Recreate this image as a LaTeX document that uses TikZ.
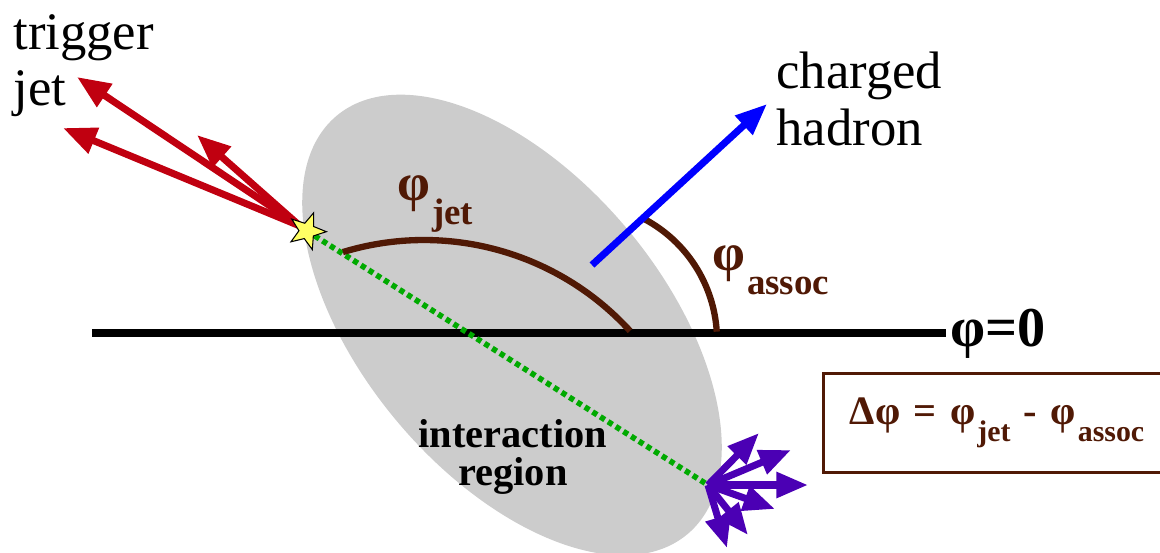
\documentclass[tikz,border=0pt]{standalone}
\usepackage{fontspec}
\setmainfont{Liberation Serif}
\usetikzlibrary{arrows.meta,shapes.geometric}
\definecolor{jetred}{RGB}{192,0,16}
\definecolor{hadronblue}{RGB}{0,0,255}
\definecolor{sprayviolet}{RGB}{75,0,180}
\definecolor{anglebrown}{RGB}{80,25,5}
\definecolor{regiongray}{RGB}{204,204,204}
\definecolor{pathgreen}{RGB}{0,170,0}
\definecolor{staryellow}{RGB}{255,255,100}
% phi with a lowered subscript
\newcommand\phisub[3]{φ\kern1pt\raisebox{-#1}{\fontsize{#2}{#2}\selectfont #3}}
\begin{document}
\begin{tikzpicture}[x=0.02cm, y=-0.02cm,
    jetarrow/.style={jetred, line width=4pt, -{Triangle[length=19pt,width=15pt]}},
    hadronarrow/.style={hadronblue, line width=4pt, -{Triangle[length=18pt,width=14pt]}},
    sprayarrow/.style={sprayviolet, line width=4pt, -{Triangle[length=18pt,width=14pt]}},
    anglearc/.style={anglebrown, line width=3.6pt},
    biglabel/.style={inner sep=0pt, align=left, font=\fontsize{30}{32}\selectfont},
    anglelabel/.style={inner sep=0pt, anchor=base west, text=anglebrown,
      font=\fontsize{30}{30}\selectfont\bfseries}]
  \useasboundingbox (0,0) rectangle (1160,552);
  % --- interaction region ---------------------------------------
  \fill[regiongray, rotate around={-50:(512,325)}]
    (512,325) ellipse [x radius=273, y radius=150];
  % --- reference axis -------------------------------------------
  \coordinate (axisL) at (92,333);
  \coordinate (axisR) at (946,333);
  \draw[black, line width=4pt] (axisL) -- (axisR);
  % --- points ----------------------------------------------------
  \coordinate (vtxc) at (307,231);
  \coordinate (jetorg) at (300,226);
  \coordinate (sprayorg) at (708,485);
  \coordinate (hadorg) at (592,265);
  % --- path through the medium -----------------------------------
  \draw[pathgreen, line width=3.2pt, dash pattern=on 3pt off 2.2pt] (vtxc) -- (sprayorg);
  % --- angle arcs ------------------------------------------------
  \coordinate (jetctr) at (424,519);
  \coordinate (assocctr) at (580,340);
  \draw[anglearc] (jetctr) ++(-42.4:279) arc [start angle=-42.4, end angle=-106.9, radius=279];
  \draw[anglearc] (assocctr) ++(-3.5:137) arc [start angle=-3.5, end angle=-62, radius=137];
  % --- charged hadron --------------------------------------------
  \coordinate (hadtip) at (767,104);
  \draw[hadronarrow] (hadorg) -- (hadtip);
  % --- trigger jet -----------------------------------------------
  \coordinate (jetA) at (77,77);
  \coordinate (jetB) at (63,128);
  \coordinate (jetC) at (197,135);
  \foreach \t in {jetA,jetB,jetC}
    \draw[jetarrow] (jetorg) -- (\t);
  \node[star, star points=5, star point ratio=2.4, minimum size=22pt, inner sep=0pt,
    fill=staryellow, draw=black, line width=0.6pt, rotate=-20] (vtx) at (vtxc) {};
  % --- away side spray -------------------------------------------
  \foreach \x/\y in {759/433, 791/450, 808/485, 775/509, 748/535, 727/548}
    \draw[sprayarrow] (sprayorg) -- (\x,\y);
  % --- labels ----------------------------------------------------
  \node[biglabel, anchor=north west] (trig) at (13,14) {trigger\\jet};
  \node[biglabel, anchor=north west] (chad) at (776,52) {charged\\hadron};
  \node[anglelabel] (phijet) at (397,200) {\phisub{14pt}{21}{jet}};
  \node[anglelabel] (phiassoc) at (712,270) {\phisub{14pt}{21}{assoc}};
  \node[inner sep=0pt, anchor=base west, font=\fontsize{32}{32}\selectfont\bfseries]
    (phizero) at (950,346) {φ=0};
  \node[inner sep=0pt, align=center, font=\fontsize{23}{22}\selectfont\bfseries]
    (region) at (513,457) {interaction\\region};
  % --- definition box --------------------------------------------
  \node[draw=anglebrown, line width=1.7pt, anchor=north west, minimum width=6.96cm,
    minimum height=1.98cm, text width=6.6cm, inner xsep=15pt, align=left,
    text=anglebrown, font=\fontsize{23}{23}\selectfont\bfseries] (dbox) at (822,372)
    {Δφ = \phisub{10pt}{17}{jet} - \phisub{10pt}{17}{assoc}};
\end{tikzpicture}
\end{document}
